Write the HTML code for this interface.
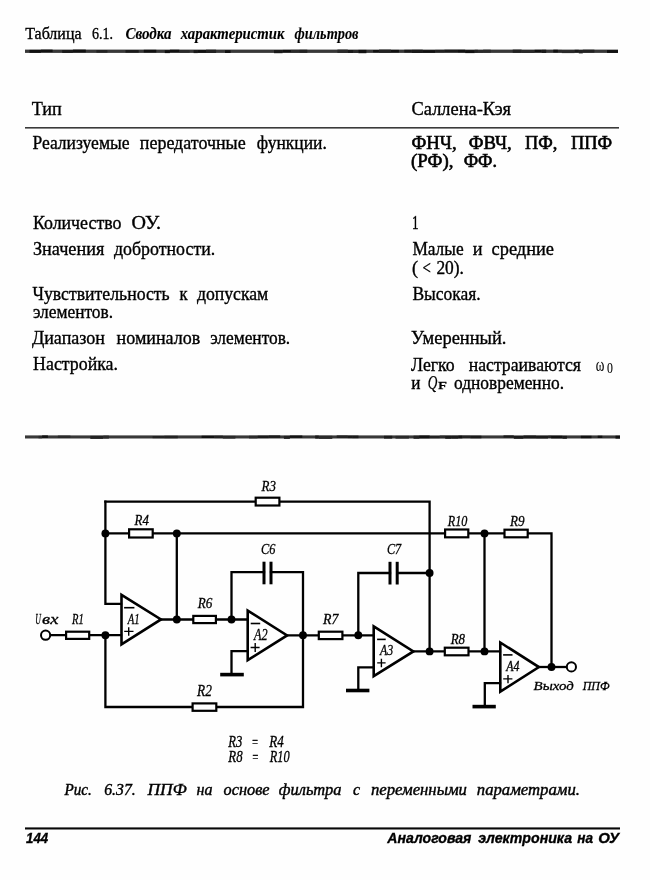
<!DOCTYPE html>
<html><head><meta charset="utf-8"><style>
html,body{margin:0;padding:0;background:#fdfefd;}
svg{display:block;filter:grayscale(1)}
.a{font-family:"Liberation Serif",serif;}
.b{font-family:"Liberation Serif",serif;font-style:italic;}
.c{font-family:"Liberation Sans",sans-serif;font-style:italic;}
.d{font-family:"Liberation Sans",sans-serif;font-style:italic;font-weight:bold;}
.e{font-family:"Liberation Serif",serif;font-weight:bold;}
.f{font-family:"Liberation Serif",serif;font-style:italic;font-weight:bold;}
.g{font-family:"Liberation Sans",sans-serif;}
text{fill:#000;}
#ckt path{fill:none;stroke:#000;stroke-linecap:square;stroke-linejoin:miter;}
#ckt .t{stroke-width:2.6;fill:none;stroke-linejoin:miter;}
#ckt .r{fill:#fdfefd;stroke:#000;}
#ckt .k{fill:#000;stroke:none;}
#ckt .o{fill:#fff;stroke:#000;stroke-width:2;}
</style></head><body>
<svg width="650" height="880" viewBox="0 0 650 880">
<rect x="0" y="0" width="650" height="880" fill="#fdfefd"/>
<rect x="25.0" y="49.6" width="593.0" height="3.3" fill="#383838"/>
<rect x="29.5" y="49.9" width="11.4" height="2.9" fill="#111"/>
<rect x="40.9" y="49.6" width="11.7" height="2.5" fill="#111"/>
<rect x="62.2" y="50.1" width="10.7" height="2.8" fill="#1a1a1a"/>
<rect x="72.9" y="49.6" width="12.9" height="2.8" fill="#111"/>
<rect x="96.4" y="50.1" width="11.0" height="2.5" fill="#222"/>
<rect x="125.5" y="50.1" width="13.2" height="2.5" fill="#1a1a1a"/>
<rect x="143.8" y="49.8" width="12.5" height="2.7" fill="#111"/>
<rect x="164.8" y="50.2" width="5.1" height="2.9" fill="#111"/>
<rect x="169.9" y="49.7" width="9.5" height="2.6" fill="#111"/>
<rect x="179.4" y="50.1" width="10.3" height="2.6" fill="#2a2a2a"/>
<rect x="193.6" y="50.1" width="4.2" height="3.0" fill="#1a1a1a"/>
<rect x="197.8" y="50.1" width="8.2" height="2.7" fill="#111"/>
<rect x="206.0" y="49.7" width="10.1" height="3.3" fill="#222"/>
<rect x="225.0" y="50.2" width="5.6" height="2.8" fill="#111"/>
<rect x="274.0" y="50.1" width="8.6" height="3.1" fill="#1a1a1a"/>
<rect x="282.7" y="49.9" width="8.3" height="2.5" fill="#111"/>
<rect x="290.9" y="49.8" width="8.3" height="2.8" fill="#2a2a2a"/>
<rect x="299.3" y="49.7" width="8.0" height="3.1" fill="#222"/>
<rect x="337.4" y="49.6" width="10.4" height="3.3" fill="#2a2a2a"/>
<rect x="347.8" y="50.0" width="5.7" height="3.0" fill="#1a1a1a"/>
<rect x="353.5" y="50.2" width="4.8" height="2.7" fill="#2a2a2a"/>
<rect x="358.4" y="49.9" width="8.0" height="3.3" fill="#111"/>
<rect x="373.1" y="50.0" width="5.8" height="2.4" fill="#111"/>
<rect x="379.0" y="49.6" width="12.0" height="3.2" fill="#222"/>
<rect x="391.0" y="49.9" width="7.9" height="2.6" fill="#111"/>
<rect x="404.3" y="49.8" width="7.3" height="2.7" fill="#1a1a1a"/>
<rect x="411.7" y="49.7" width="11.1" height="3.3" fill="#1a1a1a"/>
<rect x="422.8" y="50.2" width="12.4" height="2.6" fill="#111"/>
<rect x="435.2" y="49.9" width="9.2" height="2.5" fill="#222"/>
<rect x="444.4" y="49.7" width="13.6" height="2.5" fill="#1a1a1a"/>
<rect x="458.0" y="49.7" width="7.2" height="2.7" fill="#111"/>
<rect x="465.2" y="50.2" width="9.5" height="2.9" fill="#111"/>
<rect x="474.7" y="49.8" width="3.2" height="3.0" fill="#222"/>
<rect x="477.9" y="50.2" width="5.2" height="2.6" fill="#2a2a2a"/>
<rect x="483.1" y="49.7" width="7.7" height="3.0" fill="#2a2a2a"/>
<rect x="512.7" y="49.6" width="8.9" height="3.2" fill="#222"/>
<rect x="521.6" y="50.1" width="13.0" height="2.8" fill="#2a2a2a"/>
<rect x="534.6" y="49.8" width="7.0" height="2.5" fill="#111"/>
<rect x="541.7" y="49.7" width="4.5" height="3.3" fill="#1a1a1a"/>
<rect x="553.3" y="49.7" width="4.6" height="2.8" fill="#111"/>
<rect x="558.0" y="49.9" width="3.8" height="2.4" fill="#2a2a2a"/>
<rect x="561.8" y="50.2" width="12.8" height="2.9" fill="#2a2a2a"/>
<rect x="574.6" y="49.8" width="4.2" height="2.7" fill="#1a1a1a"/>
<rect x="578.8" y="50.1" width="4.0" height="3.3" fill="#222"/>
<rect x="582.8" y="49.7" width="11.6" height="2.9" fill="#222"/>
<rect x="607.0" y="50.1" width="11.0" height="2.8" fill="#111"/>
<rect x="25" y="127" width="594" height="1.6" fill="#3a3a3a"/>
<rect x="25.0" y="435.4" width="595.0" height="3.1" fill="#383838"/>
<rect x="38.5" y="435.9" width="3.6" height="2.4" fill="#2a2a2a"/>
<rect x="42.1" y="435.4" width="5.8" height="2.5" fill="#111"/>
<rect x="57.9" y="435.6" width="12.5" height="2.3" fill="#2a2a2a"/>
<rect x="90.3" y="435.9" width="13.0" height="3.0" fill="#222"/>
<rect x="103.3" y="435.6" width="5.6" height="3.0" fill="#2a2a2a"/>
<rect x="152.6" y="436.0" width="11.7" height="2.2" fill="#222"/>
<rect x="164.3" y="435.8" width="13.5" height="2.5" fill="#222"/>
<rect x="201.6" y="435.7" width="12.9" height="2.3" fill="#111"/>
<rect x="214.5" y="435.6" width="8.4" height="2.5" fill="#222"/>
<rect x="222.8" y="435.9" width="12.6" height="2.7" fill="#2a2a2a"/>
<rect x="249.0" y="435.8" width="8.5" height="2.6" fill="#2a2a2a"/>
<rect x="257.6" y="435.6" width="11.0" height="2.5" fill="#1a1a1a"/>
<rect x="268.6" y="435.4" width="11.6" height="2.4" fill="#1a1a1a"/>
<rect x="283.9" y="435.9" width="6.0" height="3.0" fill="#222"/>
<rect x="289.9" y="435.5" width="12.4" height="2.3" fill="#111"/>
<rect x="315.2" y="435.5" width="3.6" height="3.1" fill="#1a1a1a"/>
<rect x="318.8" y="435.8" width="13.5" height="3.1" fill="#2a2a2a"/>
<rect x="336.7" y="435.4" width="11.1" height="2.6" fill="#222"/>
<rect x="347.8" y="435.6" width="4.7" height="2.5" fill="#1a1a1a"/>
<rect x="352.4" y="435.6" width="6.1" height="2.6" fill="#1a1a1a"/>
<rect x="384.0" y="435.8" width="8.2" height="2.8" fill="#1a1a1a"/>
<rect x="395.5" y="435.9" width="13.4" height="2.7" fill="#2a2a2a"/>
<rect x="413.5" y="435.7" width="5.9" height="3.1" fill="#222"/>
<rect x="419.3" y="435.5" width="10.4" height="2.9" fill="#111"/>
<rect x="429.7" y="436.0" width="10.0" height="2.3" fill="#222"/>
<rect x="439.7" y="435.6" width="5.6" height="2.6" fill="#2a2a2a"/>
<rect x="445.2" y="435.7" width="5.8" height="3.1" fill="#1a1a1a"/>
<rect x="451.1" y="435.7" width="7.2" height="3.0" fill="#1a1a1a"/>
<rect x="458.3" y="435.5" width="4.1" height="2.9" fill="#111"/>
<rect x="462.4" y="435.6" width="8.0" height="2.5" fill="#222"/>
<rect x="470.4" y="435.7" width="11.0" height="2.6" fill="#1a1a1a"/>
<rect x="503.5" y="435.4" width="10.3" height="2.2" fill="#1a1a1a"/>
<rect x="513.8" y="436.0" width="9.7" height="2.8" fill="#1a1a1a"/>
<rect x="523.5" y="435.5" width="12.6" height="2.9" fill="#1a1a1a"/>
<rect x="536.1" y="435.8" width="11.9" height="2.7" fill="#1a1a1a"/>
<rect x="548.1" y="435.6" width="3.1" height="2.4" fill="#222"/>
<rect x="551.1" y="435.7" width="11.3" height="2.7" fill="#111"/>
<rect x="562.4" y="435.9" width="4.5" height="2.9" fill="#1a1a1a"/>
<rect x="580.9" y="435.8" width="10.6" height="2.4" fill="#111"/>
<rect x="597.7" y="435.7" width="4.6" height="2.3" fill="#111"/>
<rect x="615.5" y="435.7" width="4.5" height="2.9" fill="#111"/>
<rect x="25" y="827.4" width="595" height="2.1" fill="#080808"/>
<g id="ckt">
<path d="M105.4 501.6 L429.6 501.6 L429.6 651.4" stroke-width="2.3"/>
<path d="M105.4 501.6 L105.4 603.9 L121.0 603.9" stroke-width="2.3"/>
<path d="M105.4 533.4 L551.5 533.4 L551.5 667.0" stroke-width="2.3"/>
<path d="M176.8 533.4 L176.8 619.5" stroke-width="2.3"/>
<path d="M484.5 533.4 L484.5 651.4" stroke-width="2.3"/>
<path d="M50.2 635.2 L121.0 635.2" stroke-width="2.3"/>
<path d="M105.4 635.2 L105.4 707.0 L303.0 707.0 L303.0 572.2 L271.0 572.2" stroke-width="2.3"/>
<path d="M264.0 572.2 L231.5 572.2 L231.5 619.5" stroke-width="2.3"/>
<path d="M160.0 619.5 L247.5 619.5" stroke-width="2.3"/>
<path d="M287.0 635.3 L373.8 635.3" stroke-width="2.3"/>
<path d="M247.5 651.2 L231.5 651.2 L231.5 674.6" stroke-width="2.3"/>
<path d="M358.3 635.3 L358.3 573.0 L390.0 573.0" stroke-width="2.3"/>
<path d="M397.2 573.0 L429.6 573.0" stroke-width="2.3"/>
<path d="M373.8 667.4 L358.3 667.4 L358.3 690.5" stroke-width="2.3"/>
<path d="M413.0 651.4 L500.0 651.4" stroke-width="2.3"/>
<path d="M500.0 683.1 L484.8 683.1 L484.8 706.6" stroke-width="2.3"/>
<path d="M538.5 667.0 L566.8 667.0" stroke-width="2.3"/>
<rect x="255.70" y="497.70" width="23.70" height="7.80" class="r" stroke-width="2.2"/>
<rect x="129.10" y="529.30" width="23.60" height="8.20" class="r" stroke-width="2.2"/>
<rect x="445.10" y="529.50" width="23.20" height="7.80" class="r" stroke-width="2.2"/>
<rect x="504.50" y="529.70" width="23.20" height="7.60" class="r" stroke-width="2.2"/>
<rect x="66.10" y="631.70" width="23.10" height="7.20" class="r" stroke-width="2.2"/>
<rect x="193.30" y="615.90" width="22.60" height="7.20" class="r" stroke-width="2.2"/>
<rect x="318.80" y="631.70" width="23.60" height="7.40" class="r" stroke-width="2.2"/>
<rect x="444.80" y="647.70" width="23.70" height="7.60" class="r" stroke-width="2.2"/>
<rect x="192.60" y="703.40" width="23.70" height="7.40" class="r" stroke-width="2.2"/>
<rect x="262.5" y="561.7" width="3.0" height="22.6" class="k"/>
<rect x="269.5" y="561.7" width="3.0" height="22.6" class="k"/>
<rect x="388.5" y="561.8" width="3.0" height="22.7" class="k"/>
<rect x="395.7" y="561.8" width="3.0" height="22.7" class="k"/>
<path d="M121.5 594.8 L161.0 619.4 L121.5 644.4 Z" class="t"/>
<path d="M247.7 610.6 L287.1 635.4 L247.7 660.2 Z" class="t"/>
<path d="M373.7 626.4 L413.4 651.4 L373.7 676.2 Z" class="t"/>
<path d="M500.3 642.5 L538.9 667.1 L500.3 691.7 Z" class="t"/>
<path d="M124.9 631.4 H132.8 M128.7 627.9 V635.1" stroke-width="1.4"/>
<path d="M124.9 607.7 H133.6" stroke-width="1.6"/>
<path d="M251.3 647.5 H258.9 M255.2 643.8 V651.2" stroke-width="1.4"/>
<path d="M251.5 623.5 H259.4" stroke-width="1.6"/>
<path d="M377.9 662.9 H384.9 M381.4 659.5 V666.6" stroke-width="1.4"/>
<path d="M377.9 639.4 H384.9" stroke-width="1.6"/>
<path d="M503.9 678.9 H511.7 M508.0 675.6 V682.6" stroke-width="1.4"/>
<path d="M503.9 654.9 H511.7" stroke-width="1.6"/>
<rect x="220.2" y="672.8" width="23.6" height="3.6" class="k"/>
<rect x="346.0" y="688.7" width="23.4" height="3.6" class="k"/>
<rect x="472.5" y="704.8" width="23.3" height="3.6" class="k"/>
<circle cx="105.4" cy="533.4" r="3.95" class="k"/>
<circle cx="176.8" cy="533.4" r="3.95" class="k"/>
<circle cx="484.5" cy="533.4" r="3.95" class="k"/>
<circle cx="105.4" cy="635.2" r="3.95" class="k"/>
<circle cx="176.8" cy="619.5" r="3.95" class="k"/>
<circle cx="231.5" cy="619.5" r="3.95" class="k"/>
<circle cx="303.0" cy="635.3" r="3.95" class="k"/>
<circle cx="358.3" cy="635.3" r="3.95" class="k"/>
<circle cx="429.6" cy="573.0" r="3.95" class="k"/>
<circle cx="429.6" cy="651.4" r="3.95" class="k"/>
<circle cx="484.5" cy="651.4" r="3.95" class="k"/>
<circle cx="551.5" cy="667.0" r="3.95" class="k"/>
<circle cx="45.6" cy="635.2" r="4.6" class="o"/>
<circle cx="571.4" cy="666.9" r="4.6" class="o"/>
</g>
<text class="a" x="25.20" y="38.90" font-size="16.60" textLength="56.34" lengthAdjust="spacingAndGlyphs" stroke="#000" stroke-width="0.35">Таблица</text>
<text class="a" x="92.00" y="38.90" font-size="16.60" textLength="21.00" lengthAdjust="spacingAndGlyphs" stroke="#000" stroke-width="0.35">6.1.</text>
<text class="f" x="125.40" y="38.90" font-size="16.00" textLength="46.14" lengthAdjust="spacingAndGlyphs" stroke="#000" stroke-width="0.10">Сводка</text>
<text class="f" x="180.68" y="38.90" font-size="16.00" textLength="103.92" lengthAdjust="spacingAndGlyphs" stroke="#000" stroke-width="0.10">характеристик</text>
<text class="f" x="294.60" y="38.90" font-size="16.00" textLength="63.87" lengthAdjust="spacingAndGlyphs" stroke="#000" stroke-width="0.10">фильтров</text>
<text class="a" x="31.70" y="114.50" font-size="18.30" textLength="30.11" lengthAdjust="spacingAndGlyphs" stroke="#000" stroke-width="0.35">Тип</text>
<text class="a" x="411.60" y="115.00" font-size="18.30" textLength="99.38" lengthAdjust="spacingAndGlyphs" stroke="#000" stroke-width="0.35">Саллена-Кэя</text>
<text class="a" x="32.40" y="148.80" font-size="18.30" textLength="97.17" lengthAdjust="spacingAndGlyphs" stroke="#000" stroke-width="0.35">Реализуемые</text>
<text class="a" x="139.80" y="148.80" font-size="18.30" textLength="105.85" lengthAdjust="spacingAndGlyphs" stroke="#000" stroke-width="0.35">передаточные</text>
<text class="a" x="256.80" y="148.80" font-size="18.30" textLength="70.09" lengthAdjust="spacingAndGlyphs" stroke="#000" stroke-width="0.35">функции.</text>
<text class="a" x="411.50" y="149.10" font-size="18.30" textLength="45.24" lengthAdjust="spacingAndGlyphs" stroke="#000" stroke-width="0.60">ФНЧ,</text>
<text class="a" x="468.70" y="149.10" font-size="18.30" textLength="43.02" lengthAdjust="spacingAndGlyphs" stroke="#000" stroke-width="0.60">ФВЧ,</text>
<text class="a" x="524.90" y="149.10" font-size="18.30" textLength="32.35" lengthAdjust="spacingAndGlyphs" stroke="#000" stroke-width="0.60">ПФ,</text>
<text class="a" x="571.00" y="149.10" font-size="18.30" textLength="41.19" lengthAdjust="spacingAndGlyphs" stroke="#000" stroke-width="0.60">ППФ</text>
<text class="a" x="411.10" y="166.70" font-size="18.30" textLength="42.29" lengthAdjust="spacingAndGlyphs" stroke="#000" stroke-width="0.60">(РФ),</text>
<text class="a" x="463.70" y="166.70" font-size="18.30" textLength="33.29" lengthAdjust="spacingAndGlyphs" stroke="#000" stroke-width="0.60">ФФ.</text>
<text class="a" x="32.90" y="229.10" font-size="18.30" textLength="88.60" lengthAdjust="spacingAndGlyphs" stroke="#000" stroke-width="0.35">Количество</text>
<text class="a" x="131.60" y="229.10" font-size="18.30" textLength="29.34" lengthAdjust="spacingAndGlyphs" stroke="#000" stroke-width="0.35">ОУ.</text>
<text class="a" x="411.90" y="229.00" font-size="18.30" textLength="6.56" lengthAdjust="spacingAndGlyphs" stroke="#000" stroke-width="0.35">1</text>
<text class="a" x="32.90" y="254.80" font-size="18.30" textLength="71.38" lengthAdjust="spacingAndGlyphs" stroke="#000" stroke-width="0.35">Значения</text>
<text class="a" x="114.00" y="254.80" font-size="18.30" textLength="101.22" lengthAdjust="spacingAndGlyphs" stroke="#000" stroke-width="0.35">добротности.</text>
<text class="a" x="412.40" y="255.40" font-size="18.30" textLength="51.20" lengthAdjust="spacingAndGlyphs" stroke="#000" stroke-width="0.35">Малые</text>
<text class="a" x="472.70" y="255.40" font-size="18.30" textLength="9.79" lengthAdjust="spacingAndGlyphs" stroke="#000" stroke-width="0.35">и</text>
<text class="a" x="491.60" y="255.40" font-size="18.30" textLength="62.37" lengthAdjust="spacingAndGlyphs" stroke="#000" stroke-width="0.35">средние</text>
<text class="a" x="412.00" y="273.50" font-size="18.30" textLength="6.09" lengthAdjust="spacingAndGlyphs" stroke="#000" stroke-width="0.35">(</text>
<text class="a" x="422.50" y="273.50" font-size="18.30" textLength="8.32" lengthAdjust="spacingAndGlyphs" stroke="#000" stroke-width="0.35">&lt;</text>
<text class="a" x="436.40" y="273.50" font-size="18.30" textLength="27.57" lengthAdjust="spacingAndGlyphs" stroke="#000" stroke-width="0.35">20).</text>
<text class="a" x="32.40" y="300.30" font-size="18.30" textLength="137.29" lengthAdjust="spacingAndGlyphs" stroke="#000" stroke-width="0.35">Чувствительность</text>
<text class="a" x="179.40" y="300.30" font-size="18.30" textLength="8.10" lengthAdjust="spacingAndGlyphs" stroke="#000" stroke-width="0.35">к</text>
<text class="a" x="196.90" y="300.30" font-size="18.30" textLength="71.44" lengthAdjust="spacingAndGlyphs" stroke="#000" stroke-width="0.35">допускам</text>
<text class="a" x="412.40" y="299.90" font-size="18.30" textLength="68.30" lengthAdjust="spacingAndGlyphs" stroke="#000" stroke-width="0.35">Высокая.</text>
<text class="a" x="32.90" y="317.50" font-size="18.30" textLength="80.20" lengthAdjust="spacingAndGlyphs" stroke="#000" stroke-width="0.35">элементов.</text>
<text class="a" x="31.90" y="344.10" font-size="18.30" textLength="73.14" lengthAdjust="spacingAndGlyphs" stroke="#000" stroke-width="0.35">Диапазон</text>
<text class="a" x="116.60" y="344.10" font-size="18.30" textLength="83.67" lengthAdjust="spacingAndGlyphs" stroke="#000" stroke-width="0.35">номиналов</text>
<text class="a" x="210.20" y="344.10" font-size="18.30" textLength="80.00" lengthAdjust="spacingAndGlyphs" stroke="#000" stroke-width="0.35">элементов.</text>
<text class="a" x="411.10" y="344.30" font-size="18.30" textLength="95.37" lengthAdjust="spacingAndGlyphs" stroke="#000" stroke-width="0.35">Умеренный.</text>
<text class="a" x="33.10" y="370.00" font-size="18.30" textLength="84.88" lengthAdjust="spacingAndGlyphs" stroke="#000" stroke-width="0.35">Настройка.</text>
<text class="a" x="411.00" y="370.80" font-size="18.30" textLength="43.62" lengthAdjust="spacingAndGlyphs" stroke="#000" stroke-width="0.35">Легко</text>
<text class="a" x="468.70" y="370.80" font-size="18.30" textLength="112.33" lengthAdjust="spacingAndGlyphs" stroke="#000" stroke-width="0.35">настраиваются</text>
<text class="a" x="595.80" y="371.00" font-size="18.30" textLength="8.63" lengthAdjust="spacingAndGlyphs" stroke="#000" stroke-width="0.10">ω</text>
<text class="a" x="607.10" y="372.80" font-size="14.00" textLength="5.90" lengthAdjust="spacingAndGlyphs" stroke="#000" stroke-width="0.10">0</text>
<text class="a" x="411.20" y="388.50" font-size="18.30" textLength="9.19" lengthAdjust="spacingAndGlyphs" stroke="#000" stroke-width="0.40">и</text>
<text class="b" x="427.70" y="388.50" font-size="18.30" textLength="9.61" lengthAdjust="spacingAndGlyphs" stroke="#000" stroke-width="0.25">Q</text>
<text class="a" x="438.10" y="388.50" font-size="11.10" textLength="8.76" lengthAdjust="spacingAndGlyphs" stroke="#000" stroke-width="0.35">F</text>
<text class="a" x="454.00" y="388.50" font-size="18.30" textLength="110.01" lengthAdjust="spacingAndGlyphs" stroke="#000" stroke-width="0.35">одновременно.</text>
<text class="b" x="64.50" y="794.70" font-size="15.80" textLength="27.42" lengthAdjust="spacingAndGlyphs" stroke="#000" stroke-width="0.40">Рис.</text>
<text class="b" x="104.20" y="794.70" font-size="15.80" textLength="31.50" lengthAdjust="spacingAndGlyphs" stroke="#000" stroke-width="0.40">6.37.</text>
<text class="b" x="147.52" y="794.70" font-size="15.80" textLength="39.21" lengthAdjust="spacingAndGlyphs" stroke="#000" stroke-width="0.40">ППФ</text>
<text class="b" x="196.50" y="794.70" font-size="15.80" textLength="16.04" lengthAdjust="spacingAndGlyphs" stroke="#000" stroke-width="0.40">на</text>
<text class="b" x="223.50" y="794.70" font-size="15.80" textLength="46.02" lengthAdjust="spacingAndGlyphs" stroke="#000" stroke-width="0.40">основе</text>
<text class="b" x="278.80" y="794.70" font-size="15.80" textLength="62.80" lengthAdjust="spacingAndGlyphs" stroke="#000" stroke-width="0.40">фильтра</text>
<text class="b" x="352.90" y="794.70" font-size="15.80" textLength="7.11" lengthAdjust="spacingAndGlyphs" stroke="#000" stroke-width="0.40">с</text>
<text class="b" x="370.90" y="794.70" font-size="15.80" textLength="96.09" lengthAdjust="spacingAndGlyphs" stroke="#000" stroke-width="0.40">переменными</text>
<text class="b" x="476.80" y="794.70" font-size="15.80" textLength="103.23" lengthAdjust="spacingAndGlyphs" stroke="#000" stroke-width="0.40">параметрами.</text>
<text class="d" x="26.00" y="842.60" font-size="14.00" textLength="22.16" lengthAdjust="spacingAndGlyphs" stroke="#000" stroke-width="0.35">144</text>
<text class="d" x="387.30" y="842.60" font-size="14.00" textLength="84.07" lengthAdjust="spacingAndGlyphs" stroke="#000" stroke-width="0.35">Аналоговая</text>
<text class="d" x="478.30" y="842.60" font-size="14.00" textLength="93.74" lengthAdjust="spacingAndGlyphs" stroke="#000" stroke-width="0.35">электроника</text>
<text class="d" x="577.30" y="842.60" font-size="14.00" textLength="15.74" lengthAdjust="spacingAndGlyphs" stroke="#000" stroke-width="0.35">на</text>
<text class="d" x="598.20" y="842.60" font-size="14.00" textLength="20.83" lengthAdjust="spacingAndGlyphs" stroke="#000" stroke-width="0.35">ОУ</text>
<text class="b" x="261.59" y="490.50" font-size="14.50" textLength="14.42" lengthAdjust="spacingAndGlyphs" stroke="#000" stroke-width="0.30">R3</text>
<text class="b" x="134.58" y="525.40" font-size="15.57" textLength="14.34" lengthAdjust="spacingAndGlyphs" stroke="#000" stroke-width="0.30">R4</text>
<text class="b" x="447.78" y="525.80" font-size="14.50" textLength="19.58" lengthAdjust="spacingAndGlyphs" stroke="#000" stroke-width="0.30">R10</text>
<text class="b" x="510.09" y="525.80" font-size="14.96" textLength="14.58" lengthAdjust="spacingAndGlyphs" stroke="#000" stroke-width="0.30">R9</text>
<text class="b" x="261.00" y="553.60" font-size="14.66" textLength="14.36" lengthAdjust="spacingAndGlyphs" stroke="#000" stroke-width="0.30">C6</text>
<text class="b" x="386.90" y="553.70" font-size="14.81" textLength="14.28" lengthAdjust="spacingAndGlyphs" stroke="#000" stroke-width="0.30">C7</text>
<text class="b" x="72.07" y="623.50" font-size="14.20" textLength="11.71" lengthAdjust="spacingAndGlyphs" stroke="#000" stroke-width="0.30">R1</text>
<text class="b" x="197.69" y="608.40" font-size="14.35" textLength="14.61" lengthAdjust="spacingAndGlyphs" stroke="#000" stroke-width="0.30">R6</text>
<text class="b" x="323.10" y="624.10" font-size="14.20" textLength="15.39" lengthAdjust="spacingAndGlyphs" stroke="#000" stroke-width="0.30">R7</text>
<text class="b" x="450.69" y="643.60" font-size="14.81" textLength="14.35" lengthAdjust="spacingAndGlyphs" stroke="#000" stroke-width="0.30">R8</text>
<text class="b" x="197.08" y="695.80" font-size="16.34" textLength="14.82" lengthAdjust="spacingAndGlyphs" stroke="#000" stroke-width="0.30">R2</text>
<text class="b" x="127.82" y="623.70" font-size="15.57" textLength="11.90" lengthAdjust="spacingAndGlyphs" stroke="#000" stroke-width="0.30">A1</text>
<text class="b" x="254.09" y="639.60" font-size="15.88" textLength="13.58" lengthAdjust="spacingAndGlyphs" stroke="#000" stroke-width="0.30">A2</text>
<text class="b" x="379.99" y="655.30" font-size="15.57" textLength="13.24" lengthAdjust="spacingAndGlyphs" stroke="#000" stroke-width="0.30">A3</text>
<text class="b" x="506.16" y="671.20" font-size="14.35" textLength="13.24" lengthAdjust="spacingAndGlyphs" stroke="#000" stroke-width="0.30">A4</text>
<text class="b" x="228.28" y="746.50" font-size="15.73" textLength="14.05" lengthAdjust="spacingAndGlyphs" stroke="#000" stroke-width="0.30">R3</text>
<text class="b" x="251.50" y="746.50" font-size="14.90" textLength="6.97" lengthAdjust="spacingAndGlyphs" stroke="#000" stroke-width="0.30">=</text>
<text class="b" x="269.28" y="746.50" font-size="15.73" textLength="14.55" lengthAdjust="spacingAndGlyphs" stroke="#000" stroke-width="0.30">R4</text>
<text class="b" x="228.28" y="762.30" font-size="15.73" textLength="14.35" lengthAdjust="spacingAndGlyphs" stroke="#000" stroke-width="0.30">R8</text>
<text class="b" x="251.80" y="762.30" font-size="14.90" textLength="7.07" lengthAdjust="spacingAndGlyphs" stroke="#000" stroke-width="0.30">=</text>
<text class="b" x="269.78" y="762.30" font-size="15.73" textLength="19.91" lengthAdjust="spacingAndGlyphs" stroke="#000" stroke-width="0.30">R10</text>
<text class="b" x="35.20" y="623.50" font-size="15.11" textLength="5.64" lengthAdjust="spacingAndGlyphs" stroke="#000" stroke-width="0.30">U</text>
<text class="b" x="42.10" y="623.50" font-size="15.11" textLength="16.35" lengthAdjust="spacingAndGlyphs" stroke="#000" stroke-width="0.30">вх</text>
<text class="b" x="533.60" y="690.30" font-size="13.28" textLength="40.11" lengthAdjust="spacingAndGlyphs" stroke="#000" stroke-width="0.30">Выход</text>
<text class="b" x="582.68" y="690.30" font-size="13.28" textLength="26.82" lengthAdjust="spacingAndGlyphs" stroke="#000" stroke-width="0.30">ППФ</text>
</svg>
</body></html>
